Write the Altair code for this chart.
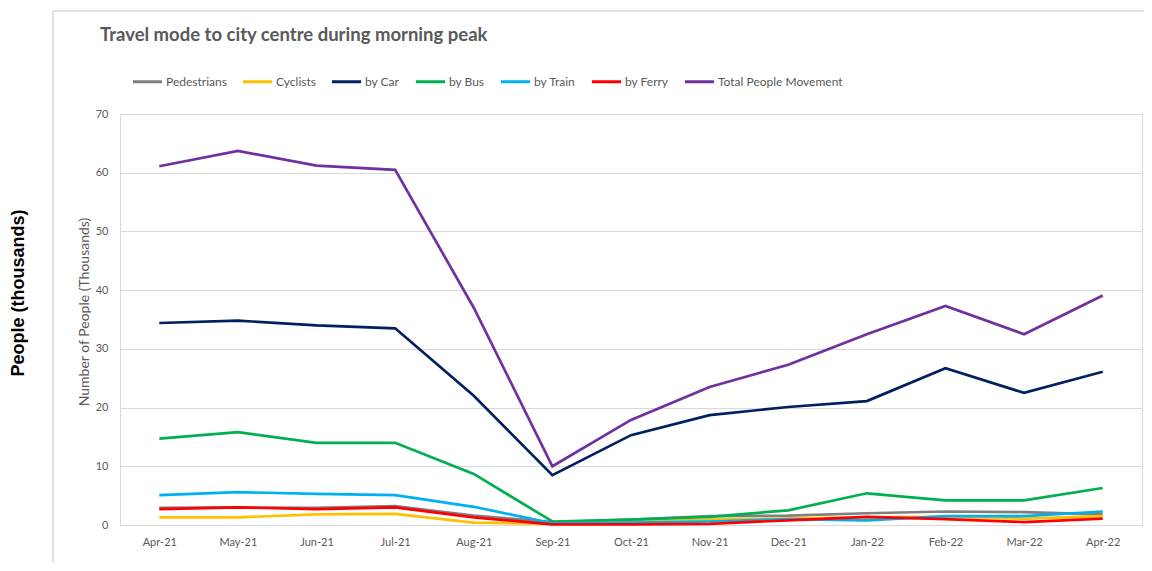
import altair as alt
import pandas as pd

months = ["Apr-21", "May-21", "Jun-21", "Jul-21", "Aug-21", "Sep-21", "Oct-21",
          "Nov-21", "Dec-21", "Jan-22", "Feb-22", "Mar-22", "Apr-22"]

series_names = ["Pedestrians", "Cyclists", "by Car", "by Bus", "by Train",
                "by Ferry", "Total People Movement"]
series_colors = ["#7f7f7f", "#ffc000", "#002060", "#00b050", "#00b0f0",
                 "#ff0000", "#7030a0"]

pedestrians = [2.9, 3.0, 2.9, 3.2, 1.6, 0.5, 0.9, 1.5, 1.6, 2.0, 2.3, 2.2, 1.8]
cyclists = [1.3, 1.3, 1.8, 1.9, 0.4, 0.2, 0.5, 0.9, 1.1, 1.3, 1.4, 1.1, 1.5]
by_car = [34.4, 34.8, 34.0, 33.5, 22.0, 8.5, 15.3, 18.7, 20.1, 21.1, 26.7, 22.5, 26.1]
by_bus = [14.7, 15.8, 14.0, 14.0, 8.7, 0.6, 0.9, 1.4, 2.5, 5.4, 4.2, 4.2, 6.3]
by_train = [5.1, 5.6, 5.3, 5.1, 3.1, 0.3, 0.4, 0.6, 1.0, 0.8, 1.5, 1.5, 2.3]
by_ferry = [2.7, 3.0, 2.7, 3.0, 1.3, 0.1, 0.1, 0.2, 0.8, 1.4, 1.0, 0.5, 1.1]
total = [61.1, 63.7, 61.2, 60.5, 37.0, 10.0, 17.9, 23.5, 27.3, 32.5, 37.3, 32.5, 39.1]

all_series = [pedestrians, cyclists, by_car, by_bus, by_train, by_ferry, total]

rows = []
for name, vals in zip(series_names, all_series):
    for m, v in zip(months, vals):
        rows.append({"Month": m, "Mode": name, "Value": v})
df = pd.DataFrame(rows)

W, H = 1022, 411
gray_txt = "#595959"
grid = "#d9d9d9"

lines = alt.Chart(df).mark_line(strokeWidth=2.7).encode(
    x=alt.X("Month:O", sort=months, scale=alt.Scale(type="point", padding=0.5),
            axis=alt.Axis(title=None, labelAngle=0, ticks=False, grid=False,
                          domainColor=grid, domainWidth=1.2, labelColor=gray_txt,
                          labelFont="Lato", labelFontSize=11, labelPadding=11)),
    y=alt.Y("Value:Q", scale=alt.Scale(domain=[0, 70], nice=False),
            axis=alt.Axis(title="Number of People (Thousands)", values=[0, 10, 20, 30, 40, 50, 60, 70],
                          ticks=False, domain=True, domainColor=grid, gridColor=grid,
                          gridWidth=1.2, labelColor=gray_txt, labelFont="Lato",
                          labelFontSize=11, labelPadding=12, titleColor=gray_txt,
                          titleFont="Lato", titleFontSize=14, titleFontWeight="normal",
                          titleX=-36, titleY=H / 2 - 8, titleAngle=270,
                          titleAlign="center", titleBaseline="middle")),
    color=alt.Color("Mode:N", sort=series_names,
                    scale=alt.Scale(domain=series_names, range=series_colors),
                    legend=alt.Legend(title=None, orient="none", direction="horizontal",
                                      legendX=11, legendY=-49, columns=7,
                                      symbolType="stroke", symbolStrokeWidth=3,
                                      symbolSize=850, labelOffset=2, columnPadding=9,
                                      labelFont="Lato", labelFontSize=12,
                                      labelColor=gray_txt, labelLimit=300)),
    order=alt.Order("Mode:N"),
)

dummy = pd.DataFrame({"a": [0]})

title_txt = alt.Chart(dummy).mark_text(
    align="left", baseline="middle", font="Lato", fontSize=18.5, fontWeight="bold",
    color=gray_txt
).encode(x=alt.value(-20), y=alt.value(-79),
         text=alt.value("Travel mode to city centre during morning peak"))

outer_label = alt.Chart(dummy).mark_text(
    align="center", baseline="middle", font="Liberation Sans", fontSize=18,
    fontWeight="bold", color="#000000", angle=270
).encode(x=alt.value(-101), y=alt.value(179), text=alt.value("People (thousands)"))

frame_left = alt.Chart(dummy).mark_rule(color=grid, strokeWidth=1.5).encode(
    x=alt.value(-67), y=alt.value(-103), y2=alt.value(460))
frame_top = alt.Chart(dummy).mark_rule(color=grid, strokeWidth=1.5).encode(
    x=alt.value(-67), x2=alt.value(1040), y=alt.value(-103))

chart = alt.layer(frame_left, frame_top, lines, title_txt, outer_label).properties(
    width=W, height=H,
    autosize=alt.AutoSizeParams(type="none"),
    padding={"left": 112, "top": 106, "right": 2, "bottom": 38},
).configure_view(stroke=None).configure(background="white")

chart.save("out.html", embed_options={"renderer": "svg", "actions": False})
